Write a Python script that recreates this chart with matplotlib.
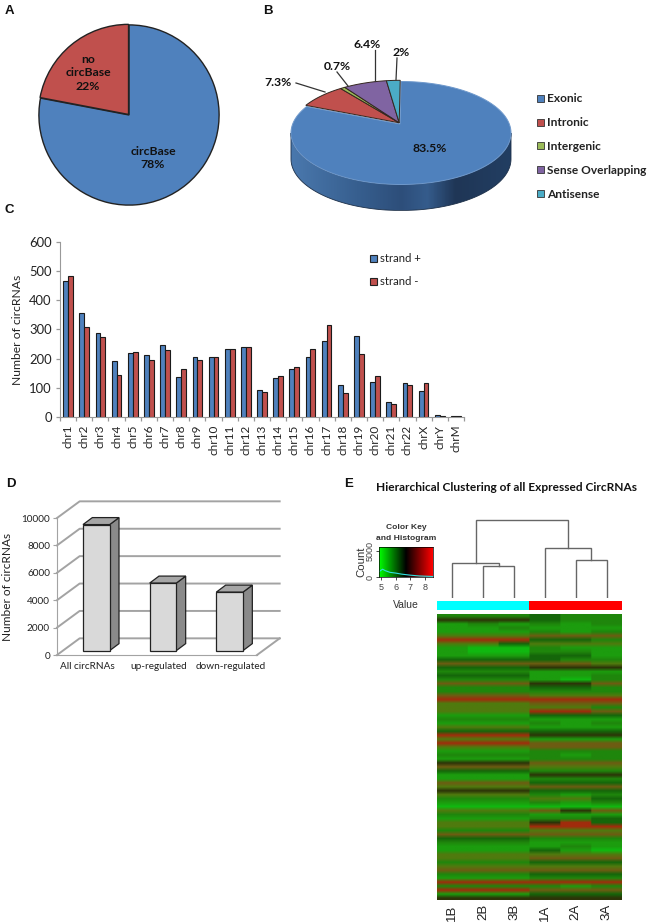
import numpy as np
import matplotlib
matplotlib.use('Agg')
import matplotlib.pyplot as plt
from matplotlib.colors import ListedColormap, LinearSegmentedColormap
from matplotlib.patches import Polygon, Rectangle

W, H = 650, 922

# panel A
a_labels = ['circBase', 'no\ncircBase']
a_values = [78, 22]
# panel B
b_labels = ['Exonic', 'Intronic', 'Intergenic', 'Sense Overlapping', 'Antisense']
b_values = [83.5, 7.3, 0.7, 6.4, 2]
# panel C
chroms = ['chr%d' % i for i in range(1, 23)] + ['chrX', 'chrY', 'chrM']
strand_plus = [466, 355, 289, 191, 218, 214, 246, 137, 206, 204, 234, 241, 92,
               135, 164, 204, 262, 109, 276, 121, 50, 115, 90, 8, 2]
strand_minus = [483, 307, 273, 145, 224, 194, 228, 165, 194, 206, 233, 239, 84,
                142, 172, 233, 314, 81, 215, 140, 46, 111, 117, 3, 4]
# panel D
d_labels = ['All circRNAs', 'up-regulated', 'down-regulated']
d_values = [9200, 4930, 4270]
# panel E, colour level of each row for samples 1B 2B 3B 1A 2A 3A
samples = ['1B', '2B', '3B', '1A', '2A', '3A']
heat_rows = ['222322', '777322', '121212', '112111', '111212', '444555', '666332', '443444',
             '100211', '100221', '111331', '333322', '555554', '333777', '222111', '333112',
             '222102', '555775', '222332', '222222', '555444', '666666', '444555', '444442',
             '444665', '111333', '222111', '111212', '444111', '333333', '666777', '444111',
             '666555', '444555', '111222', '222212', '111222', '777555', '555444',
             '333222', '111777', '111222', '555333', '444555', '777333', '444212', '222443',
             '111212', '000000', '444575', '222111', '111223', '444763', '444666', '222444',
             '555555', '333222', '222111', '111121', '111310', '444444', '444555', '222333',
             '444444', '555555', '222333', '111222', '666666', '222212', '666555', '111333',
             '777777']
# dendrogram merge heights
merge_b23, merge_b1, merge_a23, merge_a1, merge_root = 32, 35, 38, 50, 78
# colour key
key_x = [4.9, 5.1, 5.3, 5.6, 6.0, 6.4, 7.0, 7.6, 8.5]
key_count = [1100, 1500, 1200, 900, 750, 550, 350, 200, 100]

blue, red, green, purple, teal = '#4f81bd', '#c0504d', '#9bbb59', '#8064a2', '#4bacc6'
b_colors = [blue, red, green, purple, teal]
CAL = ['Lato', 'DejaVu Sans']
ARIAL = ['Liberation Sans', 'DejaVu Sans']
TXT = '#222222'

plt.rcParams['font.family'] = CAL
fig = plt.figure(figsize=(W / 100, H / 100), dpi=100)


def px_axes(x0, y0, x1, y1, **kw):
    return fig.add_axes([x0 / W, 1 - y1 / H, (x1 - x0) / W, (y1 - y0) / H], **kw)


# overlay in pixel coordinates, for panel letters and the 3D pie
ov = px_axes(0, 0, W, H)
ov.set_zorder(10)
ov.patch.set_alpha(0)
ov.set_xlim(0, W)
ov.set_ylim(H, 0)
ov.axis('off')
for lab, x, y in [('A', 9, 11), ('B', 268, 11), ('C', 9, 210), ('D', 11, 484), ('E', 349, 484)]:
    ov.text(x, y, lab, family=ARIAL, weight='bold', fontsize=9.5, ha='center', va='center', color='#111111')

# A
ax = px_axes(38, 24, 220, 206)
wedges, _ = ax.pie(a_values, startangle=90, counterclock=False, colors=[blue, red],
                   explode=[0, 0.008], wedgeprops=dict(edgecolor='#222222', linewidth=1))
ax.set_xlim(-1.01, 1.01)
ax.set_ylim(-1.01, 1.01)
ov.text(153, 158, 'circBase\n%d%%' % a_values[0], ha='center', va='center', weight='bold',
        fontsize=8.8, color='#111111', linespacing=1.25)
ov.text(88, 73, 'no\ncircBase\n%d%%' % a_values[1], ha='center', va='center', weight='bold',
        fontsize=8.8, color='#111111', linespacing=1.25)

# B, tilted pie with a shaded side
cx, cy, rx, ry, depth = 401.0, 133.0, 110.0, 51.5, 26.0
tipx, tipy = 400.0, 124.0
t = np.linspace(0, np.pi, 120)
band = np.vstack([np.c_[cx + rx * np.cos(t), cy + depth + ry * np.sin(t)],
                  np.c_[cx + rx * np.cos(t[::-1]), cy + ry * np.sin(t[::-1])]])
side_cmap = LinearSegmentedColormap.from_list('side', [(0, '#4a78ad'), (0.3, '#375f8f'), (0.5, '#2d4e7a'),
                                                       (0.62, '#355c8c'), (0.75, '#1f3656'), (1, '#223e62')])
im = ov.imshow(np.linspace(0, 1, 200)[None, :], cmap=side_cmap, aspect='auto',
               extent=[cx - rx, cx + rx, cy + depth + ry, cy - ry], zorder=1)
clip = Polygon(band, closed=True, transform=ov.transData, facecolor='none')
im.set_clip_path(clip)
ov.set_xlim(0, W)
ov.set_ylim(H, 0)
ov.add_patch(Polygon(band, closed=True, fill=False, edgecolor='#1c2f48', lw=0.6, zorder=2))

edges = np.cumsum([0] + b_values) / sum(b_values) * 2 * np.pi
for i in range(len(b_values)):
    ang = np.linspace(edges[i], edges[i + 1], max(4, int((edges[i + 1] - edges[i]) * 60)))
    # the small slices are pulled a little out of the pie
    off = (0, 0) if i == 0 else (-0.8, -1.2)
    pts = np.c_[cx + rx * np.sin(ang) + off[0], cy - ry * np.cos(ang) + off[1]]
    pts = np.vstack([[tipx + off[0], tipy + off[1]], pts])
    ov.add_patch(Polygon(pts, closed=True, facecolor=b_colors[i],
                         edgecolor='#6f99cc' if i == 0 else '#33261f', lw=0.7, zorder=3 if i == 0 else 4))

b_text = [('83.5%', 430, 149, None),
          ('7.3%', 278, 82, (296, 83, 325, 92)),
          ('0.7%', 337, 66, (337, 72, 348, 86)),
          ('6.4%', 367, 44, (375, 50, 375, 81)),
          ('2%', 401, 53, (397, 58, 396, 80))]
for s, x, y, ln in b_text:
    ov.text(x, y, s, ha='center', va='center', weight='bold', fontsize=8.8, color='#111111', zorder=6)
    if ln:
        ov.plot([ln[0], ln[2]], [ln[1], ln[3]], color='#333333', lw=0.9, zorder=5)
for lab, col, y in zip(b_labels, b_colors, [99, 123, 146, 170, 194]):
    ov.add_patch(Rectangle((537, y - 3.5), 7, 7, facecolor=col, edgecolor='#333333', lw=0.6))
    ov.text(547, y, lab, ha='left', va='center', weight='bold', fontsize=8.6, color='#222222')

# C
ax = px_axes(60, 242, 464, 417)
xpos = np.arange(len(chroms))
barw = 0.3
ax.bar(xpos - barw / 2, strand_plus, barw, color=blue, edgecolor='#1a1a1a', lw=0.8)
ax.bar(xpos + barw / 2, strand_minus, barw, color=red, edgecolor='#1a1a1a', lw=0.8)
ax.set_xlim(-0.5, len(chroms) - 0.5)
ax.set_ylim(0, 600)
ax.set_yticks(range(0, 601, 100))
ax.set_xticks(np.arange(len(chroms) + 1) - 0.5, minor=False)
ax.set_xticklabels([])
ax.tick_params(axis='both', color='#999999', length=3, width=0.9)
ax.tick_params(axis='y', labelsize=9.4, labelcolor=TXT, pad=3)
for i, c in enumerate(chroms):
    ax.text(i, -0.045, c, rotation=90, ha='center', va='top', fontsize=8.5, color=TXT,
            transform=ax.get_xaxis_transform())
for sp in ['top', 'right']:
    ax.spines[sp].set_visible(False)
for sp in ['left', 'bottom']:
    ax.spines[sp].set_color('#999999')
ax.set_ylabel('Number of circRNAs', fontsize=8.7, color=TXT)
ax.yaxis.set_label_coords(-0.092, 0.5)
for lab, col, y in [('strand +', blue, 258), ('strand -', red, 281)]:
    ov.add_patch(Rectangle((370, y - 3.5), 7, 7, facecolor=col, edgecolor='#222222', lw=0.8))
    ov.text(380, y, lab, ha='left', va='center', fontsize=8.2, color=TXT)

# D, 3D looking columns on a sheared wall
ax = px_axes(57, 518, 257, 655)
ax.set_xlim(0, 3)
ax.set_ylim(0, 10000)
ax.patch.set_alpha(0)
wall_dx, wall_dy = 0.34, 1216
gc = '#a3a3a3'
for v in range(0, 10001, 2000):
    ax.plot([0, wall_dx, 3 + wall_dx], [v, v + wall_dy, v + wall_dy], color=gc, lw=1.4, clip_on=False, zorder=1)
ax.plot([3, 3 + wall_dx], [0, wall_dy], color=gc, lw=1.4, clip_on=False, zorder=1)
bar_w, base_dx, base_dy = 0.4, 0.09, 320
dep_dx, dep_dy = 0.14, 510
for i, v in enumerate(d_values):
    x0 = i + 0.5 - bar_w / 2 + base_dx
    x1 = x0 + bar_w
    y0, y1 = base_dy, base_dy + v
    ax.add_patch(Polygon([[x1, y0], [x1 + dep_dx, y0 + dep_dy], [x1 + dep_dx, y1 + dep_dy], [x1, y1]],
                         facecolor='#8a8a8a', edgecolor='#222222', lw=0.9, clip_on=False, zorder=3))
    ax.add_patch(Polygon([[x0, y1], [x1, y1], [x1 + dep_dx, y1 + dep_dy], [x0 + dep_dx, y1 + dep_dy]],
                         facecolor='#a6a6a6', edgecolor='#222222', lw=0.9, clip_on=False, zorder=3))
    ax.add_patch(Polygon([[x0, y0], [x1, y0], [x1, y1], [x0, y1]],
                         facecolor='#d9d9d9', edgecolor='#222222', lw=0.9, clip_on=False, zorder=4))
ax.set_yticks(range(0, 10001, 2000))
ax.set_xticks([0.46, 1.53, 2.6])
ax.set_xticklabels(d_labels, fontsize=7.2, color=TXT)
ax.tick_params(axis='x', length=0, pad=5)
ax.tick_params(axis='y', length=3, color=gc, labelsize=7.2, labelcolor=TXT, pad=2)
for sp in ['top', 'right']:
    ax.spines[sp].set_visible(False)
for sp in ['left', 'bottom']:
    ax.spines[sp].set_color(gc)
ov.text(8, 587, 'Number of circRNAs', rotation=90, ha='center', va='center', fontsize=8.6, color=TXT)

# E heatmap
ov.text(506, 487, 'Hierarchical Clustering of all Expressed CircRNAs', ha='center', va='center',
        weight='bold', fontsize=8.6, color='#111111')
heat = np.array([[int(c) for c in r] for r in heat_rows])
heat_cmap = ListedColormap(['#10b810', '#1c9c0e', '#1f860c', '#15660a', '#4f7a0e', '#6d5c12', '#a02c0c', '#2c3408'])
ax = px_axes(437, 614, 622, 900)
# columns repeated so that the smoothing only blurs the rows
ax.imshow(np.repeat(heat, 20, axis=1), cmap=heat_cmap, vmin=-0.5, vmax=7.5, aspect='auto',
          interpolation='bilinear', interpolation_stage='rgba',
          extent=[-0.5, 5.5, len(heat_rows) - 0.5, -0.5])
ax.set_yticks([])
ax.set_xticks(range(6))
ax.set_xticklabels(samples, rotation=90, family=ARIAL, fontsize=9.5, color=TXT)
ax.tick_params(axis='x', length=0, pad=3)
for sp in ax.spines.values():
    sp.set_visible(False)

# side colour bar
ax = px_axes(437, 601, 622, 610)
ax.imshow([[0, 1]], cmap=ListedColormap(['#00ffff', '#ff0000']), aspect='auto')
ax.axis('off')

# dendrogram
ax = px_axes(437, 518, 622, 598)
ax.set_xlim(-0.5, 5.5)
ax.set_ylim(0, 80)
ax.axis('off')
dc = '#666666'


def link(ax, xa, ha, xb, hb, h):
    ax.plot([xa, xa, xb, xb], [ha, h, h, hb], color=dc, lw=1.0, solid_joinstyle='miter')
    return (xa + xb) / 2


m1 = link(ax, 1, 0, 2, 0, merge_b23)
m2 = link(ax, 0, 0, m1, merge_b23, merge_b1)
m3 = link(ax, 4, 0, 5, 0, merge_a23)
m4 = link(ax, 3, 0, m3, merge_a23, merge_a1)
link(ax, m2, merge_b1, m4, merge_a1, merge_root)

# colour key
ax = px_axes(379, 547, 433, 577)
key_cmap = LinearSegmentedColormap.from_list('key', ['#00ff00', '#000000', '#ff0000'])
ax.imshow(np.linspace(0, 1, 128)[None, :], cmap=key_cmap, aspect='auto', extent=[4.86, 8.53, 0, 5770])
ax.plot(key_x, key_count, color='#30e0e0', lw=0.8)
ax.set_xlim(4.86, 8.53)
ax.set_ylim(0, 5770)
ax.set_xticks([5, 6, 7, 8])
ax.set_yticks([0, 5000])
ax.tick_params(axis='x', labelsize=6.5, length=2, width=0.5, pad=2, labelcolor='#444444')
ax.tick_params(axis='y', labelsize=6.5, length=2, width=0.5, pad=1, labelcolor='#444444', labelrotation=90)
for lab in ax.get_xticklabels() + ax.get_yticklabels():
    lab.set_family(ARIAL)
for lab in ax.get_yticklabels():
    lab.set_va('center')
for sp in ax.spines.values():
    sp.set_linewidth(0.5)
ov.text(406, 527, 'Color Key', family=ARIAL, weight='bold', fontsize=6.1, ha='center', va='center', color='#333333')
ov.text(406, 538, 'and Histogram', family=ARIAL, weight='bold', fontsize=6.1, ha='center', va='center', color='#333333')
ov.text(361, 562, 'Count', family=ARIAL, rotation=90, fontsize=8.2, ha='center', va='center', color='#333333')
ov.text(406, 605, 'Value', family=ARIAL, fontsize=7.5, ha='center', va='center', color='#333333')

fig.savefig('out.png', dpi=100)
plt.close(fig)
